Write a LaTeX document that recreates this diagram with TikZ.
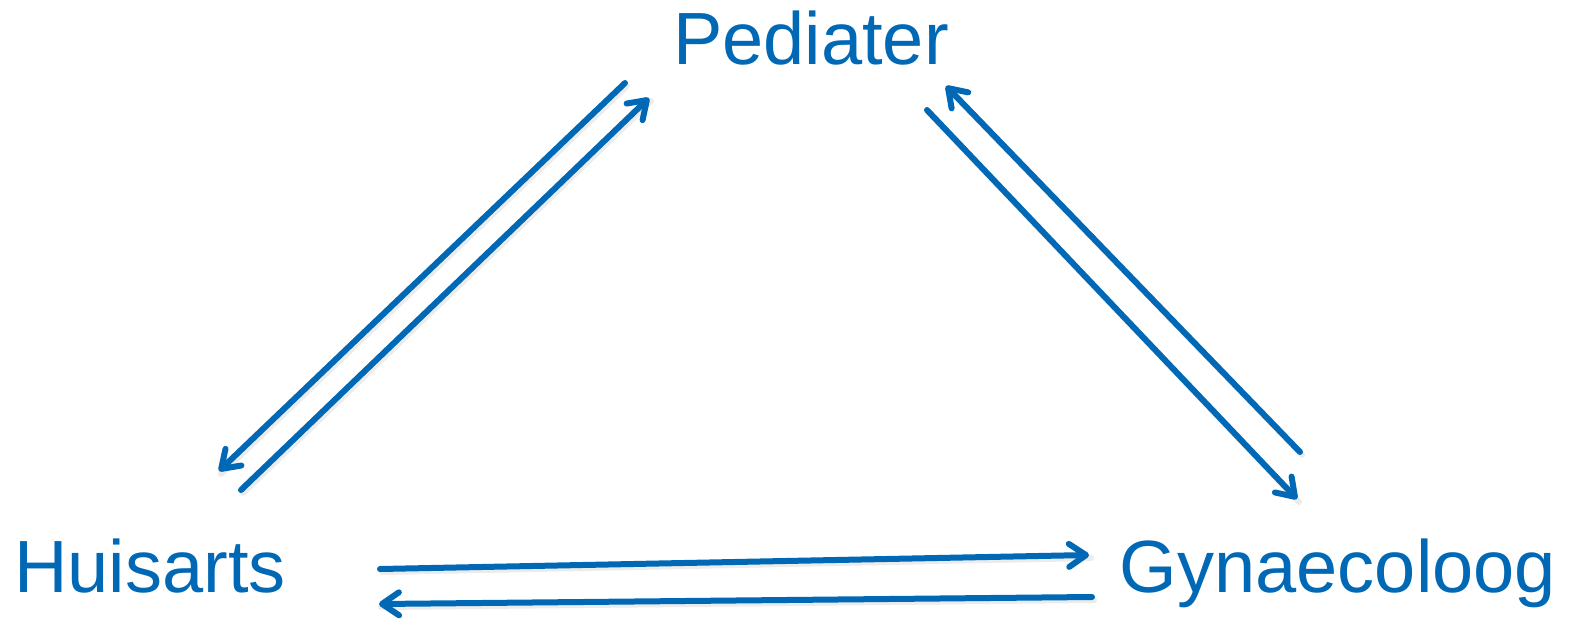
\documentclass[tikz,border=0pt]{standalone}
\usepackage{fontspec}
\setmainfont{Liberation Sans}
\usetikzlibrary{arrows.meta}
\definecolor{docblue}{RGB}{0,104,180}
\tikzset{
  lbl/.style={text=docblue, font=\fontsize{74}{80}\selectfont, inner sep=0pt, anchor=base},
  link/.style={draw=docblue, line width=6pt, line cap=round,
    -{Straight Barb[length=17pt,width=23pt,line cap=round,line join=round]}},
  shade/.style={draw=black!25, line width=6pt, line cap=round, opacity=0.3}
}
\begin{document}
\begin{tikzpicture}[x=1pt,y=-1pt]
\useasboundingbox (0,0) rectangle (1573,623);
\node[lbl] (ped) at (811,65) {Pediater};
\node[lbl] (hui) at (150,592) {Huisarts};
\node[lbl] (gyn) at (1338,592) {Gynaecoloog};
% endpoints
\coordinate (pA) at (625,83);
\coordinate (hA) at (219,471);
\coordinate (hB) at (241,490);
\coordinate (pB) at (649,98);
\coordinate (pC) at (927,110);
\coordinate (gC) at (1297,499);
\coordinate (gD) at (1300,452);
\coordinate (pD) at (946,86);
\coordinate (hE) at (380,569);
\coordinate (gE) at (1089,555);
\coordinate (gF) at (1092,597);
\coordinate (hF) at (379,604);
% shadows
\foreach \a/\b in {pA/hA,hB/pB,pC/gC,gD/pD,hE/gE,gF/hF}{
  \draw[shade] ([shift={(2,3)}]\a) -- ([shift={(2,3)}]\b);
}
\draw[link] (pA) -- (hA);
\draw[link] (hB) -- (pB);
\draw[link] (pC) -- (gC);
\draw[link] (gD) -- (pD);
\draw[link] (hE) -- (gE);
\draw[link] (gF) -- (hF);
\end{tikzpicture}
\end{document}
